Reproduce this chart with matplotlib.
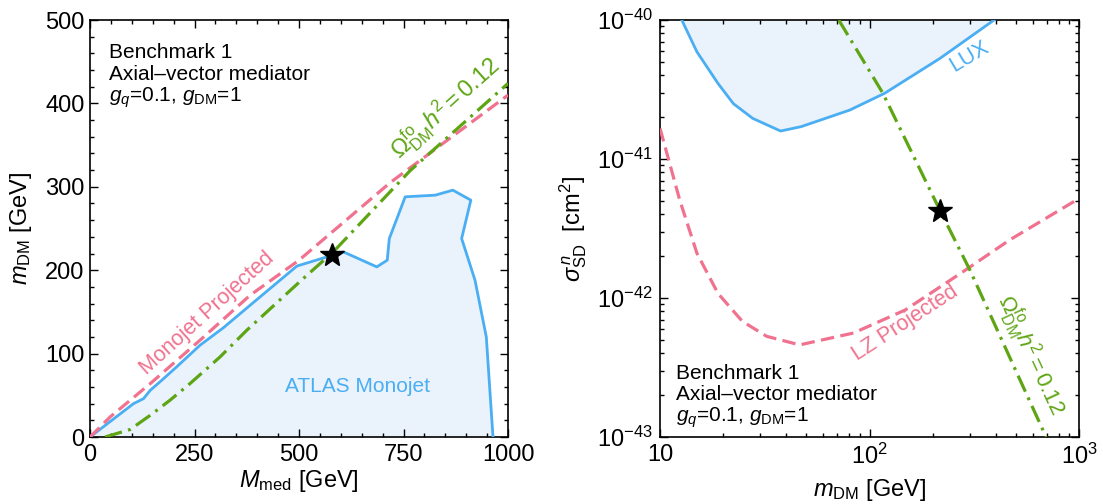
import matplotlib
matplotlib.use("Agg")
import matplotlib.pyplot as plt
from matplotlib.ticker import MultipleLocator, FixedLocator, FixedFormatter, NullFormatter

plt.rcParams['font.family'] = ['Liberation Sans', 'DejaVu Sans']
plt.rcParams['mathtext.fontset'] = 'custom'
plt.rcParams['mathtext.rm'] = 'Liberation Sans'
plt.rcParams['mathtext.it'] = 'Liberation Sans:italic'
plt.rcParams['mathtext.bf'] = 'Liberation Sans:bold'

# ---- left panel: (M_med, m_DM) plane ----
atlas_mmed = [0, 104, 128, 144, 167, 207, 263, 319, 383, 495, 580, 606, 686, 711,
              716, 754, 826, 868, 911, 889, 921, 948, 964]
atlas_mdm = [0, 40, 46, 56, 66, 84, 110, 131, 158, 205, 218, 222, 204, 212,
             238, 288, 290, 296, 284, 238, 188, 120, 0]

proj_mmed = [0, 48, 144, 263, 383, 500, 718, 1000]
proj_mdm = [0, 24, 64, 116, 170, 212, 305, 410]

relic_mmed = [36, 96, 144, 191, 239, 311, 375, 510, 582, 765, 1000]
relic_mdm = [0, 9, 26, 44, 64, 96, 128, 190, 222, 319, 424]

bench_mmed, bench_mdm = 580, 218

# ---- right panel: (m_DM, sigma_SD^n) plane ----
lux_m = [12.7, 15.0, 18.9, 22.4, 27.7, 37.6, 47.2, 80.5, 118, 217, 393]
lux_sig = [1e-40, 5.9e-41, 3.5e-41, 2.5e-41, 1.96e-41, 1.59e-41, 1.71e-41,
           2.25e-41, 2.97e-41, 5.3e-41, 1e-40]

lz_m = [10, 12.4, 15.0, 18.9, 24.7, 32.3, 46.4, 83.8, 148, 273, 467, 1000]
lz_sig = [1.66e-41, 5.1e-42, 2.1e-42, 1.08e-42, 6.8e-43, 5.3e-43, 4.6e-43,
          5.6e-43, 8.2e-43, 1.51e-42, 2.62e-42, 5.2e-42]

relic_m = [71.3, 115.8, 217, 300.6, 682, 697]
relic_sig = [1e-40, 2.97e-41, 4.26e-42, 1.6e-42, 1.07e-43, 1e-43]

bench_m, bench_sig = 218, 4.2e-42

blue = '#4aaef2'
fill = '#eaf2fc'
pink = '#f0728f'
green = '#5ea514'

fig = plt.figure(figsize=(11.03, 5.04), dpi=100)
ax1 = fig.add_axes([0.0816, 0.1329, 0.379, 0.8274])
ax2 = fig.add_axes([0.5984, 0.1329, 0.3799, 0.8274])

dash = (0, (4.2, 2.0))
dashdot = (0, (5.5, 2.0, 0.9, 2.0))

# left
ax1.fill(atlas_mmed, atlas_mdm, color=fill, lw=0, zorder=1)
ax1.plot(atlas_mmed, atlas_mdm, color=blue, lw=2.0, zorder=3)
ax1.plot(proj_mmed, proj_mdm, color=pink, lw=2.3, ls=dash, zorder=4)
ax1.plot(relic_mmed, relic_mdm, color=green, lw=2.3, ls=dashdot, zorder=5)
ax1.plot(bench_mmed, bench_mdm, marker='*', color='black', ms=18, zorder=6)
ax1.set_xlim(0, 1000)
ax1.set_ylim(0, 500)
ax1.xaxis.set_major_locator(MultipleLocator(250))
ax1.xaxis.set_minor_locator(MultipleLocator(50))
ax1.yaxis.set_major_locator(MultipleLocator(100))
ax1.yaxis.set_minor_locator(MultipleLocator(20))

ax1.text(641, 60, 'ATLAS Monojet', color=blue, fontsize=15, ha='center', va='center')
ax1.text(280, 148, 'Monojet Projected', color=pink, fontsize=15.5, rotation=42,
         ha='center', va='center', rotation_mode='anchor')
ax1.text(850, 394, r'$\Omega^{\rm fo}_{\rm DM}h^2 = 0.12$', color=green, fontsize=17,
         rotation=42, ha='center', va='center', rotation_mode='anchor')

ax1.set_xlabel(r'$M_{\rm med}$ [GeV]', fontsize=17)
ax1.set_ylabel(r'$m_{\rm DM}$ [GeV]', fontsize=17)
ax1.xaxis.set_label_coords(0.5, -0.075)
ax1.yaxis.set_label_coords(-0.135, 0.5)

# right
ax2.set_xscale('log')
ax2.set_yscale('log')
ax2.fill_between(lux_m, lux_sig, 1e-40, color=fill, lw=0, zorder=1)
ax2.plot(lux_m, lux_sig, color=blue, lw=2.0, zorder=3)
ax2.plot(lz_m, lz_sig, color=pink, lw=2.3, ls=dash, zorder=4)
ax2.plot(relic_m, relic_sig, color=green, lw=2.3, ls=dashdot, zorder=5)
ax2.plot(bench_m, bench_sig, marker='*', color='black', ms=18, zorder=6)
ax2.set_xlim(10, 1000)
ax2.set_ylim(1e-43, 1e-40)

ax2.xaxis.set_major_locator(FixedLocator([10, 100, 1000]))
ax2.xaxis.set_major_formatter(FixedFormatter(['10', r'$10^2$', r'$10^3$']))
ax2.xaxis.set_minor_locator(FixedLocator([k * 10 ** d for d in (1, 2) for k in range(2, 10)]))
ax2.xaxis.set_minor_formatter(NullFormatter())
ax2.yaxis.set_major_locator(FixedLocator([1e-43, 1e-42, 1e-41, 1e-40]))
ax2.yaxis.set_major_formatter(FixedFormatter([r'$10^{-43}$', r'$10^{-42}$',
                                              r'$10^{-41}$', r'$10^{-40}$']))
ax2.yaxis.set_minor_locator(FixedLocator([k * 10.0 ** d for d in (-43, -42, -41) for k in range(2, 10)]))
ax2.yaxis.set_minor_formatter(NullFormatter())

ax2.text(301, 5.45e-41, 'LUX', color=blue, fontsize=15.5, rotation=31,
         ha='center', va='center', rotation_mode='anchor')
ax2.text(148, 6.6e-43, 'LZ Projected', color=pink, fontsize=15.5, rotation=33,
         ha='center', va='center', rotation_mode='anchor')
ax2.text(586, 3.9e-43, r'$\Omega^{\rm fo}_{\rm DM}h^2 = 0.12$', color=green, fontsize=16,
         rotation=-65, ha='center', va='center', rotation_mode='anchor')

ax2.set_xlabel(r'$m_{\rm DM}$ [GeV]', fontsize=17)
ax2.set_ylabel(r'$\sigma^{\,n}_{\rm SD}$  [cm$^2$]', fontsize=17)
ax2.xaxis.set_label_coords(0.5, -0.095)
ax2.yaxis.set_label_coords(-0.17, 0.5)

# benchmark boxes
lines = ['Benchmark 1', 'Axial\u2013vector mediator', r'$g_q$=0.1, $g_{\rm DM}$=1']
for y, s in zip([0.909, 0.856, 0.804], lines):
    ax1.text(0.045, y, s, transform=ax1.transAxes, fontsize=15, va='baseline', ha='left')
for y, s in zip([0.138, 0.0887, 0.0367], lines):
    ax2.text(0.038, y, s, transform=ax2.transAxes, fontsize=15, va='baseline', ha='left')

for ax in (ax1, ax2):
    for sp in ax.spines.values():
        sp.set_linewidth(1.2)
    ax.tick_params(which='both', direction='in', top=True, right=True,
                   labelsize=17, width=1.0)
    ax.tick_params(which='major', length=5.5)
    ax.tick_params(which='minor', length=3)
ax1.tick_params(axis='x', pad=5)
ax1.tick_params(axis='y', pad=4)
ax2.tick_params(axis='x', pad=5)
ax2.tick_params(axis='y', pad=5)

fig.savefig('out.png', dpi=100)
